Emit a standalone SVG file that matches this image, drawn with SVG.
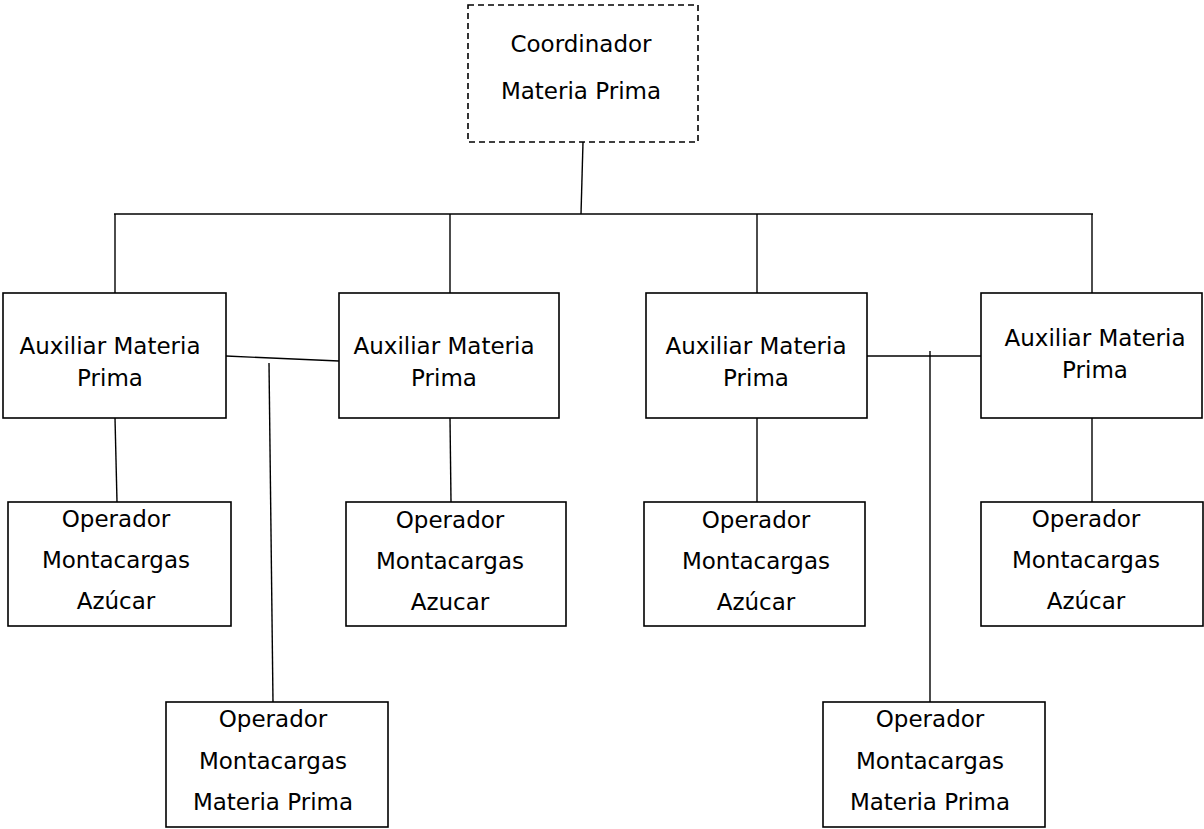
<svg xmlns="http://www.w3.org/2000/svg" width="1204" height="829" viewBox="0 0 1204 829">
  <style>
    .box { fill: #ffffff; stroke: #000000; stroke-width: 1.6; }
    .dash { stroke-dasharray: 6 4; }
    .lbl { font-family: "DejaVu Sans", Verdana, sans-serif; font-size: 23px; fill: #000000; text-anchor: middle; }
    .wire { fill: none; stroke: #000000; stroke-width: 1.4; }
  </style>
  <rect width="1204" height="829" fill="#ffffff"/>

  <!-- connectors -->
  <g id="connectors">
    <line class="wire" x1="583" y1="142" x2="581" y2="214"/>
    <line class="wire" x1="114" y1="214" x2="1093" y2="214"/>
    <line class="wire" x1="115" y1="214" x2="115" y2="293"/>
    <line class="wire" x1="450" y1="214" x2="450" y2="293"/>
    <line class="wire" x1="757" y1="214" x2="757" y2="293"/>
    <line class="wire" x1="1092" y1="214" x2="1092" y2="293"/>
    <line class="wire" x1="226" y1="356" x2="339" y2="361"/>
    <line class="wire" x1="269" y1="363" x2="273" y2="702"/>
    <line class="wire" x1="867" y1="356" x2="981" y2="356"/>
    <line class="wire" x1="930" y1="351" x2="930" y2="702"/>
    <line class="wire" x1="115" y1="418" x2="117" y2="502"/>
    <line class="wire" x1="450" y1="418" x2="451" y2="502"/>
    <line class="wire" x1="757" y1="418" x2="757" y2="502"/>
    <line class="wire" x1="1092" y1="418" x2="1092" y2="502"/>
  </g>

  <g id="coordinador">
    <rect class="box dash" x="468" y="5" width="230" height="137"/>
    <text class="lbl" x="581" y="52">Coordinador</text>
    <text class="lbl" x="581" y="99">Materia Prima</text>
  </g>

  <g id="auxiliar-1">
    <rect class="box" x="3" y="293" width="223" height="125"/>
    <text class="lbl" x="110" y="354">Auxiliar Materia</text>
    <text class="lbl" x="110" y="386">Prima</text>
  </g>
  <g id="auxiliar-2">
    <rect class="box" x="339" y="293" width="220" height="125"/>
    <text class="lbl" x="444" y="354">Auxiliar Materia</text>
    <text class="lbl" x="444" y="386">Prima</text>
  </g>
  <g id="auxiliar-3">
    <rect class="box" x="646" y="293" width="221" height="125"/>
    <text class="lbl" x="756" y="354">Auxiliar Materia</text>
    <text class="lbl" x="756" y="386">Prima</text>
  </g>
  <g id="auxiliar-4">
    <rect class="box" x="981" y="293" width="221" height="125"/>
    <text class="lbl" x="1095" y="346">Auxiliar Materia</text>
    <text class="lbl" x="1095" y="378">Prima</text>
  </g>

  <g id="operador-1">
    <rect class="box" x="8" y="502" width="223" height="124"/>
    <text class="lbl" x="116" y="527">Operador</text>
    <text class="lbl" x="116" y="568">Montacargas</text>
    <text class="lbl" x="116" y="609">Azúcar</text>
  </g>
  <g id="operador-2">
    <rect class="box" x="346" y="502" width="220" height="124"/>
    <text class="lbl" x="450" y="528">Operador</text>
    <text class="lbl" x="450" y="569">Montacargas</text>
    <text class="lbl" x="450" y="610">Azucar</text>
  </g>
  <g id="operador-3">
    <rect class="box" x="644" y="502" width="221" height="124"/>
    <text class="lbl" x="756" y="528">Operador</text>
    <text class="lbl" x="756" y="569">Montacargas</text>
    <text class="lbl" x="756" y="610">Azúcar</text>
  </g>
  <g id="operador-4">
    <rect class="box" x="981" y="502" width="222" height="124"/>
    <text class="lbl" x="1086" y="527">Operador</text>
    <text class="lbl" x="1086" y="568">Montacargas</text>
    <text class="lbl" x="1086" y="609">Azúcar</text>
  </g>

  <g id="operador-mp-1">
    <rect class="box" x="166" y="702" width="222" height="125"/>
    <text class="lbl" x="273" y="727">Operador</text>
    <text class="lbl" x="273" y="769">Montacargas</text>
    <text class="lbl" x="273" y="810">Materia Prima</text>
  </g>
  <g id="operador-mp-2">
    <rect class="box" x="823" y="702" width="222" height="125"/>
    <text class="lbl" x="930" y="727">Operador</text>
    <text class="lbl" x="930" y="769">Montacargas</text>
    <text class="lbl" x="930" y="810">Materia Prima</text>
  </g>
</svg>
